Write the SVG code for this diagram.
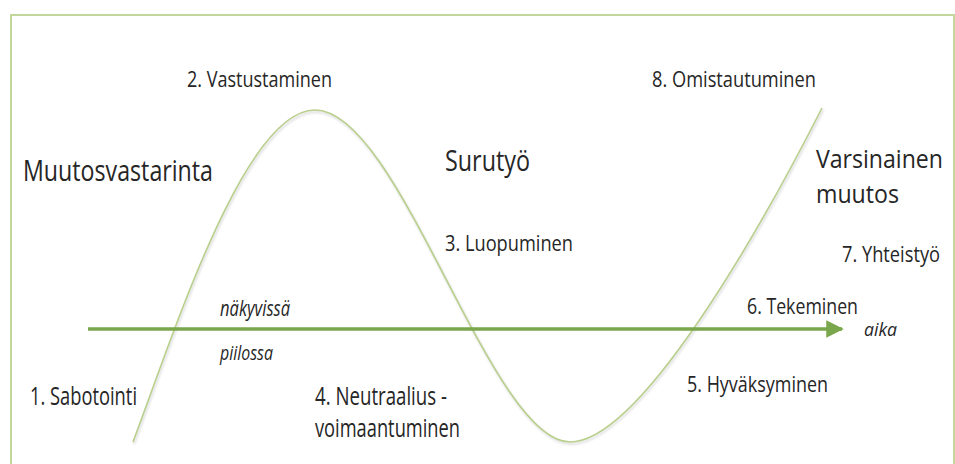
<svg xmlns="http://www.w3.org/2000/svg" width="955" height="464" viewBox="0 0 955 464">
<style>
.t{font-family:"Open Sans","Liberation Sans",sans-serif;fill:#262626}
.s{font-size:22px}
.m{font-size:22px}
.l{font-size:25px}
.b{font-size:29px}
.i{font-style:italic}
</style>
<defs>
<marker id="ah" markerWidth="5" markerHeight="5" refX="4.5" refY="2.5" orient="auto" markerUnits="strokeWidth">
<path d="M0,0 L5,2.5 L0,5 Z" fill="#7aa64c"/>
</marker>
<filter id="sh" x="-5%" y="-5%" width="110%" height="110%">
<feGaussianBlur stdDeviation="1"/>
</filter>
</defs>
<rect id="frame" x="11" y="15" width="943" height="470" fill="#fff" stroke="#c3d69b" stroke-width="2"/>
<g id="connectors">
<path d="M133,442 C175,330 245,110 315,110 C400,110 490,442 570,442 C640,442 760,230 822,108" fill="none" stroke="#bbb" stroke-width="2" opacity="0.5" filter="url(#sh)" transform="translate(1,2)"/>
<path id="curve" d="M133,442 C175,330 245,110 315,110 C400,110 490,442 570,442 C640,442 760,230 822,108" fill="none" stroke="#b9cf8c" stroke-width="1.6"/>
<line id="axis" x1="88" y1="329" x2="842" y2="329" stroke="#7aa64c" stroke-width="3.5" marker-end="url(#ah)"/>
</g>
<g id="n1"><text class="t l" x="30" y="405" textLength="107" lengthAdjust="spacingAndGlyphs">1. Sabotointi</text></g>
<g id="n2"><text class="t s" x="187" y="87" textLength="145" lengthAdjust="spacingAndGlyphs">2. Vastustaminen</text></g>
<g id="n3"><text class="t m" x="445" y="251" textLength="128" lengthAdjust="spacingAndGlyphs">3. Luopuminen</text></g>
<g id="n4"><text class="t l" x="315" y="405" textLength="132" lengthAdjust="spacingAndGlyphs">4. Neutraalius -</text><text class="t l" x="315" y="437" textLength="145" lengthAdjust="spacingAndGlyphs">voimaantuminen</text></g>
<g id="n5"><text class="t m" x="687" y="392" textLength="141" lengthAdjust="spacingAndGlyphs">5. Hyväksyminen</text></g>
<g id="n6"><text class="t" font-size="21" x="747" y="314" textLength="111" lengthAdjust="spacingAndGlyphs">6. Tekeminen</text></g>
<g id="n7"><text class="t" font-size="21" x="842" y="262" textLength="98" lengthAdjust="spacingAndGlyphs">7. Yhteistyö</text></g>
<g id="n8"><text class="t s" x="652" y="87" textLength="164" lengthAdjust="spacingAndGlyphs">8. Omistautuminen</text></g>
<g id="muutosvastarinta"><text class="t b" x="23" y="181" textLength="190" lengthAdjust="spacingAndGlyphs">Muutosvastarinta</text></g>
<g id="surutyo"><text class="t b" x="445" y="171" textLength="85" lengthAdjust="spacingAndGlyphs">Surutyö</text></g>
<g id="varsinainen"><text class="t l" x="816" y="168" textLength="127" lengthAdjust="spacingAndGlyphs">Varsinainen</text><text class="t l" x="816" y="203" textLength="83" lengthAdjust="spacingAndGlyphs">muutos</text></g>
<g id="nakyvissa"><text class="t i" font-size="22" x="220" y="316" textLength="70" lengthAdjust="spacingAndGlyphs">näkyvissä</text></g>
<g id="piilossa"><text class="t i" font-size="20" x="220" y="360" textLength="53" lengthAdjust="spacingAndGlyphs">piilossa</text></g>
<g id="aika"><text class="t i" font-size="19" x="864" y="336" textLength="33" lengthAdjust="spacingAndGlyphs">aika</text></g>
</svg>
